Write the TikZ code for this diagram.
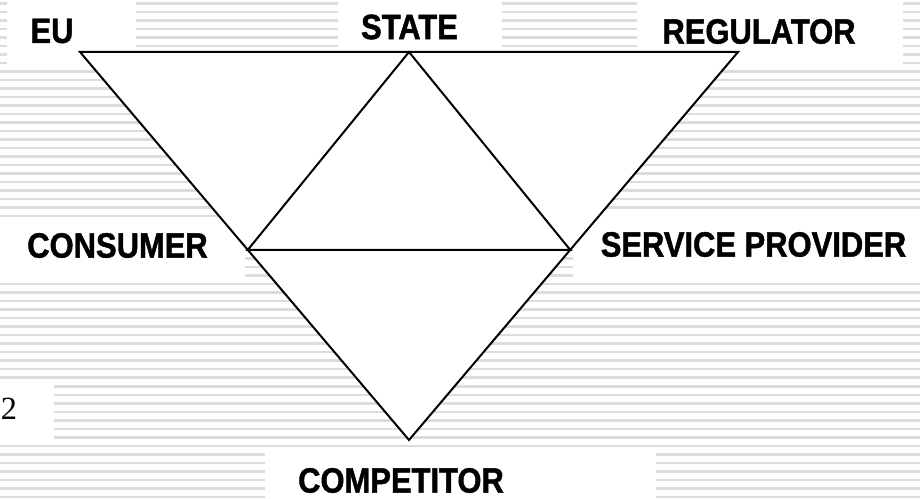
\documentclass[tikz,border=0pt]{standalone}
\usepackage{fontspec}
\usepackage{tikz}
\usetikzlibrary{calc}
\newfontfamily\labelfont[FakeStretch=0.88, BoldFeatures={FakeBold=1.3}]{Liberation Sans}
\newfontfamily\pagefont{Liberation Serif}
\definecolor{stripegray}{RGB}{220,220,220}

\begin{document}
\begin{tikzpicture}[x=0.025cm, y=-0.025cm,
  stripe/.style = {stripegray, line width=0.0625cm},
  side/.style = {draw, line width=0.05cm},
  party/.style = {font=\fontsize{25pt}{25pt}\selectfont\labelfont\bfseries, inner sep=0pt}]
\useasboundingbox (0,0) rectangle (920,499); \clip (0,0) rectangle (920,499);
\foreach \k in {0,...,58} \draw[stripe] (0,3.3+8.51*\k) -- (920,3.3+8.51*\k);
% white boxes behind the labels
\fill[white] (7,0) rectangle (136,65); \fill[white] (338,0) rectangle (502,48); \fill[white] (637,0) rectangle (903,67);
\fill[white] (0,217) rectangle (245,282); \fill[white] (573,215) rectangle (920,283);
\fill[white] (265,448) rectangle (656,499); \fill[white] (0,380) rectangle (54,439);
% corners of the triangles
\coordinate (eu) at (80,52); \coordinate (state) at (409,52); \coordinate (reg) at (738,52); \coordinate (comp) at (409,440);
\coordinate (cons) at ($(eu)!0.51!(comp)$); \coordinate (sp) at ($(reg)!0.51!(comp)$);
\fill[white] (eu) -- (reg) -- (comp) -- cycle;
\draw[side] (eu) -- (reg) -- (comp) -- cycle; \draw[side] (cons) -- (state) -- (sp) -- cycle;
\node[party](EU) at (52,31) {EU}; \node[party](STATE) at (409.5,27) {STATE}; \node[party](REG) at (759,31.5) {REGULATOR};
\node[party](CONS) at (117.5,245.5) {CONSUMER}; \node[party](SP) at (753.5,244.5) {SERVICE PROVIDER};
\node[party](COMP) at (401,480.5) {COMPETITOR};
\node[font=\fontsize{23pt}{23pt}\selectfont\pagefont, inner sep=0pt, anchor=west](page) at (0.5,409) {2};
\end{tikzpicture}
\end{document}
